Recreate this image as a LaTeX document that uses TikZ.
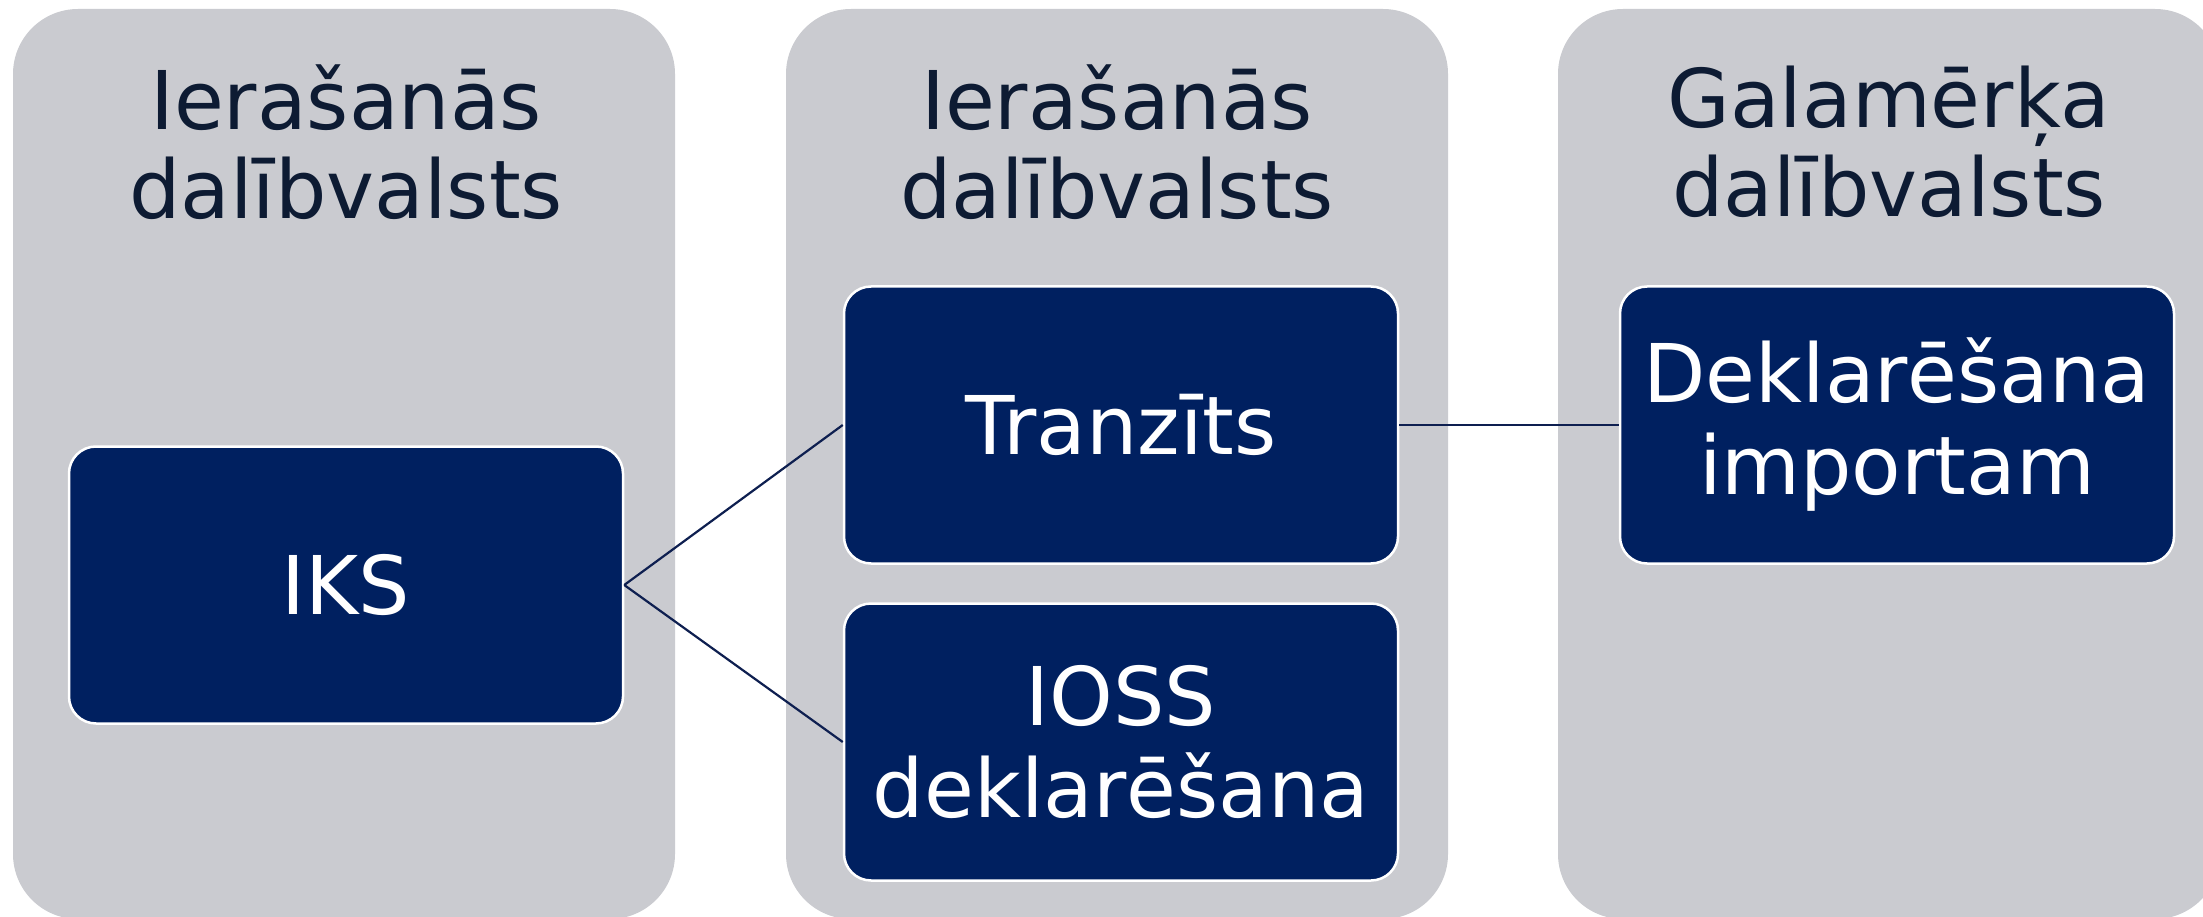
\documentclass[tikz,border=0pt]{standalone}
\usepackage{fontspec}
\setmainfont{DejaVu Sans}
\definecolor{panelgrey}{HTML}{CACBD0}
\definecolor{boxnavy}{HTML}{002060}
\definecolor{titlenavy}{HTML}{0D1B33}
\definecolor{linenavy}{HTML}{0E1F50}
\tikzset{
  panel/.style={fill=panelgrey, draw=none, rounded corners=65pt,
    minimum width=662pt, minimum height=910pt, inner sep=0pt},
  title/.style={text=titlenavy, align=center, inner sep=0pt,
    font=\fontsize{81}{89}\selectfont},
  stepbox/.style={fill=boxnavy, draw=white, line width=2.5pt, rounded corners=27pt,
    minimum width=554pt, minimum height=277pt, inner sep=0pt,
    text=white, align=center, font=\fontsize{81}{92}\selectfont},
  conn/.style={draw=linenavy, line width=2.2pt}
}
\begin{document}
\begin{tikzpicture}[x=1pt,y=-1pt]
\useasboundingbox (0,0) rectangle (2203,917);
\clip (0,0) rectangle (2203,917);
% panels
\node[panel] (p1) at (344,464) {};
\node[panel] (p2) at (1117,464) {};
\node[panel] (p3) at (1889,464) {};
% titles
\node[title] (t1) at (346,142) {Ierašanās\\dalībvalsts};
\node[title] (t2) at (1117,142) {Ierašanās\\dalībvalsts};
\node[title] (t3) at (1889,142) {Galamērķa\\dalībvalsts};
% boxes
\node[stepbox] (iks) at (346,585) {IKS};
\node[stepbox] (tranz) at (1121,425) {Tranzīts};
\node[stepbox] (ioss) at (1121,742) {IOSS\\deklarēšana};
\node[stepbox] (dekl) at (1897,425) {Deklarēšana\\importam};
% connectors
\draw[conn] (iks.east) -- (tranz.west);
\draw[conn] (iks.east) -- (ioss.west);
\draw[conn] (tranz.east) -- (dekl.west);
\end{tikzpicture}
\end{document}
